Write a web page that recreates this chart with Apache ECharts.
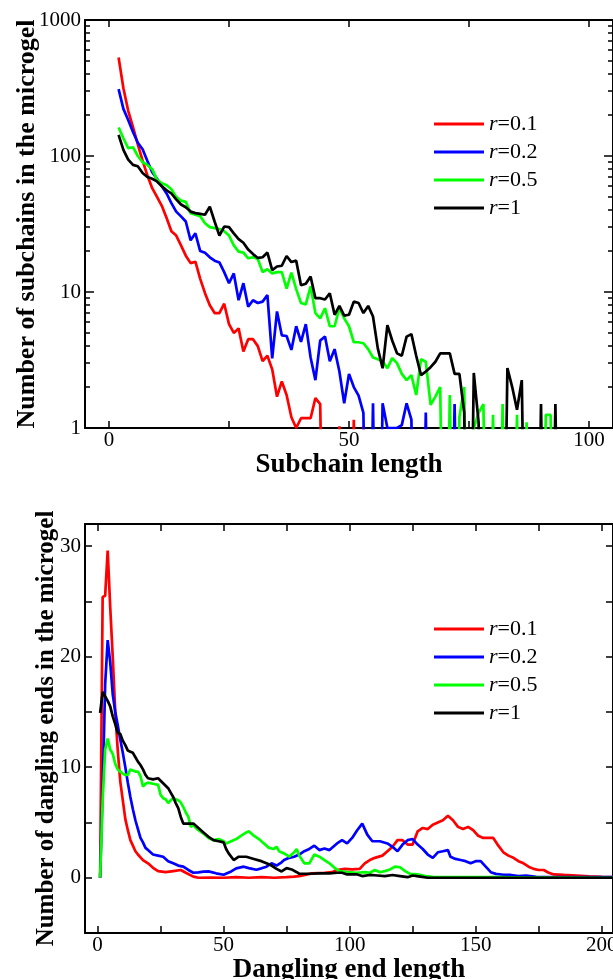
<!DOCTYPE html>
<html>
<head>
<meta charset="utf-8">
<script src="https://cdn.jsdelivr.net/npm/echarts@6/dist/echarts.min.js"></script>
<style>
  html, body { margin: 0; padding: 0; background: #fff; }
  #chart { width: 613px; height: 979px; }
</style>
</head>
<body>
<div id="chart"></div>
<script>
const seriesNames = ['r=0.1', 'r=0.2', 'r=0.5', 'r=1']
const seriesColors = ['#ff0000', '#0000ff', '#00ff00', '#000000']

// top panel: number of subchains per length, lengths start at 2
// E marks an empty bin (log of zero), it falls below the axis
const E = 0.01
const subchainStart = 2
const subR01 = [530, 315, 215, 163, 122, 92, 72, 58, 50, 43, 35, 28, 26, 22, 18.5, 16.3, 16.7, 12.5, 9.8, 8.0,
  7.0, 7.0, 8.2, 5.8, 5.0, 5.4, 3.65, 4.5, 4.5, 4.0, 3.1, 3.4, 2.7, 1.7, 2.2, 1.75, 1.2, 1.0, 1.18, 1.18,
  1.18, 1.66, 1.5, E, E, E, 1.03, E, E, 1.15, E, 1.03, E]
const subR02 = [310, 222, 184, 150, 125, 112, 92, 76, 68, 60, 53, 45, 39, 36, 33, 24, 27, 20, 19.4, 18,
  17, 16.5, 14, 11.6, 13.7, 8.7, 11.6, 7.8, 8.7, 8.3, 8.5, 9.5, 3.25, 7.2, 4.8, 4.75, 3.75, 5.6, 4.3, 5.8,
  3.3, 2.25, 4.4, 4.7, 3.1, 3.8, 2.6, 1.52, 2.5, 2.0, 1.73, 1.29, E, 1.52, E, 1.52, 1, 1, 1, 1.05,
  1.52, 1.15, E, E, 1.3, E, E, E, E, E, 1.5, E]
const subR05 = [162, 135, 114, 116, 100, 90, 86, 80, 67, 63, 61, 57, 50, 47, 46, 38, 37, 36, 32, 30,
  29.5, 29, 28, 26, 22, 19.8, 19.5, 17.7, 18, 17.5, 14, 14.7, 13.7, 14, 14, 10.6, 13.9, 10.5, 8.3, 8.1,
  11, 7.0, 6.4, 7.6, 5.6, 5.6, 7.6, 6.4, 5.6, 4.27, 4.27, 4.2, 3.8, 3.3, 3.2, 3.1, 2.75, 3.26, 3.0, 2.5,
  2.25, 2.45, 1.75, 3.2, 3.07, 1.48, 1.7, 2.0, E, 1.75, E, 1.2, 2.0, E, 1.0, 1.29, 1.5, E, 1.25, E,
  1.5, E, E, 1.25, E, 1.1, E, E, E, 1.25, 1.25, E]
const subR1 = [143, 111, 94, 86, 84, 75, 70, 68, 65, 60, 56, 53, 48, 44, 42, 39, 38, 37.5, 37, 42.4,
  33, 26, 30.3, 30, 27, 24.5, 23, 20.5, 19, 17.8, 18, 19.5, 14.5, 15.4, 15.6, 18.4, 16.6, 17, 11.2, 11.5,
  13, 9.0, 9.0, 8.8, 9.8, 6.8, 7.9, 6.7, 6.8, 8.5, 8.3, 7.0, 7.9, 6.6, 3.85, 2.75, 5.7, 4.4, 3.54, 3.4,
  4.7, 4.9, 3.4, 2.45, 2.6, 2.8, 3.07, 3.54, 3.54, 3.54, 2.5, 2.5, 1.3, E, 2.54, 1.1, E, E, E, E,
  E, 2.76, 2.0, 1.36, 2.25, E, E, E, 1.5, E, E, 1.5, E]

// bottom panel: number of dangling ends, [length, count]
const dangR01 = [[1, 0], [2, 25.4], [3, 25.5], [4, 29.6], [5, 24.5], [6, 20], [7, 15], [8, 11.5], [9, 8.7], [10, 7.0],
  [11, 5.3], [12, 4.3], [13, 3.4], [14, 2.9], [15, 2.4], [16, 2.1], [18, 1.6], [20, 1.3], [22, 0.9], [24, 0.6],
  [27, 0.5], [30, 0.6], [33, 0.7], [35, 0.45], [38, 0.1], [40, 0], [45, 0.02], [50, 0], [55, 0.05], [60, 0],
  [65, 0.05], [70, 0], [75, 0.05], [78, 0.1], [80, 0.15], [85, 0.4], [90, 0.45], [93, 0.5], [95, 0.7], [98, 0.8],
  [101, 0.75], [104, 0.8], [106, 1.3], [108, 1.6], [110, 1.8], [113, 2.0], [115, 2.4], [117, 2.8], [119, 3.4], [121, 3.4],
  [123, 3.0], [125, 3.0], [127, 4.2], [129, 4.5], [131, 4.4], [133, 4.8], [135, 5.0], [137, 5.2], [139, 5.6], [141, 5.2],
  [143, 4.6], [145, 4.4], [147, 4.6], [149, 4.3], [151, 3.8], [153, 3.6], [155, 3.6], [157, 3.6], [159, 2.9], [161, 2.3],
  [163, 2.0], [165, 1.8], [167, 1.5], [169, 1.3], [171, 1.0], [173, 0.8], [175, 0.7], [177, 0.7], [179, 0.45], [181, 0.3],
  [185, 0.25], [190, 0.2], [195, 0.12], [200, 0.08], [205, 0.05]]
const dangR02 = [[1, 0], [2, 8], [3, 17.5], [4, 21.5], [5, 19.5], [6, 16.6], [7, 15], [8, 13.8], [9, 12.5], [10, 11.3],
  [11, 10], [12, 8.6], [13, 7.3], [14, 6.2], [15, 5.2], [16, 4.4], [17, 3.6], [18, 3.2], [19, 2.7], [20, 2.5],
  [22, 2.1], [24, 2.0], [26, 1.9], [28, 1.5], [30, 1.3], [32, 1.1], [34, 1.0], [36, 0.7], [38, 0.45], [40, 0.48],
  [42, 0.55], [44, 0.57], [47, 0.4], [50, 0.27], [53, 0.57], [55, 0.85], [58, 1.0], [60, 0.87], [63, 0.72], [65, 0.85],
  [67, 1.0], [69, 1.3], [71, 1.1], [73, 1.4], [74, 1.6], [76, 1.8], [78, 1.9], [80, 2.1], [82, 2.4], [84, 2.6],
  [86, 2.9], [88, 2.5], [90, 2.65], [92, 2.5], [95, 3.1], [97, 3.4], [99, 3.1], [101, 3.6], [103, 4.3], [105, 4.9],
  [107, 3.9], [109, 3.3], [112, 3.3], [115, 3.1], [117, 2.8], [119, 2.4], [121, 3.0], [123, 3.4], [125, 3.5], [127, 3.0],
  [129, 2.6], [131, 2.1], [133, 1.8], [135, 2.3], [137, 2.4], [139, 2.5], [140, 1.9], [142, 1.7], [144, 1.6], [146, 1.5],
  [148, 1.3], [150, 1.5], [152, 1.5], [154, 1.0], [156, 0.5], [158, 0.35], [161, 0.27], [164, 0.25], [167, 0.15], [170, 0.2],
  [174, 0.08], [180, 0.05], [190, 0.05], [200, 0.05], [205, 0.05]]
const dangR05 = [[1, 0], [2, 7], [3, 11.6], [4, 12.6], [5, 11.6], [6, 11.2], [7, 10.3], [8, 9.8], [9, 9.6], [10, 9.4],
  [11, 9.3], [12, 9.3], [13, 9.8], [14, 9.7], [15, 9.6], [16, 9.6], [17, 9.2], [18, 8.25], [19, 8.5], [20, 8.6],
  [22, 8.5], [24, 8.4], [25, 7.5], [26, 7.2], [27, 7.1], [28, 6.75], [29, 7.0], [30, 7.2], [32, 7.0], [33, 6.8],
  [34, 6.4], [35, 5.9], [36, 5.5], [37, 4.6], [38, 4.8], [39, 4.5], [40, 4.3], [42, 4.0], [44, 3.6], [46, 3.4],
  [48, 3.5], [50, 3.3], [51, 3.1], [53, 3.3], [55, 3.5], [57, 3.8], [59, 4.1], [60, 4.2], [62, 3.8], [64, 3.5],
  [66, 3.1], [68, 2.7], [70, 2.6], [71, 2.8], [72, 2.4], [74, 2.2], [76, 1.9], [78, 2.3], [79, 2.6], [80, 2.0],
  [82, 1.3], [84, 1.3], [86, 2.1], [88, 1.9], [90, 1.6], [92, 1.3], [94, 0.9], [96, 0.6], [99, 0.5], [103, 0.45],
  [106, 0.5], [108, 0.45], [110, 0.7], [112, 0.5], [114, 0.6], [116, 0.75], [118, 1.0], [120, 0.95], [122, 0.6], [124, 0.35],
  [127, 0.3], [130, 0.15], [133, 0.08], [140, 0.05], [150, 0.05], [160, 0.05], [170, 0.02], [180, 0.02], [190, 0.02], [200, 0],
  [205, 0]]
const dangR1 = [[1, 14.9], [2, 16.8], [3, 16.4], [4, 16.0], [5, 15.5], [6, 14.6], [7, 13.9], [8, 13.1], [9, 13.0], [10, 12.4],
  [11, 12.0], [12, 11.5], [13, 11.4], [14, 11.3], [15, 10.9], [16, 10.5], [17, 10.2], [18, 9.8], [19, 9.3], [20, 9.0],
  [22, 8.9], [24, 9.0], [26, 8.55], [28, 8.1], [29, 7.7], [30, 7.3], [31, 6.75], [32, 6.3], [33, 5.5], [34, 4.9],
  [36, 4.9], [38, 4.9], [40, 4.5], [42, 4.1], [44, 3.7], [46, 3.4], [48, 3.3], [50, 3.2], [51, 2.6], [52, 2.2],
  [54, 1.6], [56, 1.9], [59, 1.9], [62, 1.7], [65, 1.5], [67, 1.3], [69, 1.1], [71, 0.8], [73, 0.57], [75, 0.87],
  [77, 0.75], [79, 0.5], [80, 0.36], [84, 0.36], [88, 0.4], [92, 0.4], [95, 0.45], [97, 0.45], [99, 0.3], [101, 0.3],
  [103, 0.3], [105, 0.15], [108, 0.25], [111, 0.2], [114, 0.15], [117, 0.25], [120, 0.15], [123, 0.05], [125, 0.2], [128, 0.1],
  [131, 0], [140, 0], [150, 0], [160, 0], [170, 0], [180, 0], [190, 0], [200, 0], [205, 0]]

// ticks and labels
const subXTicks = [0, 25, 50, 75, 100]
const subXLabels = [0, 50, 100]
const subYMajor = [1, 10, 100, 1000]
const subYMinor = [2, 3, 4, 5, 6, 7, 8, 9, 20, 30, 40, 50, 60, 70, 80, 90, 200, 300, 400, 500, 600, 700, 800, 900]
const dangXTicks = [0, 25, 50, 75, 100, 125, 150, 175, 200]
const dangXLabels = [0, 50, 100, 150, 200]
const dangYTicks = [0, 5, 10, 15, 20, 25, 30]
const dangYLabels = [0, 10, 20, 30]

const FONT = '"Liberation Serif", "Times New Roman", serif'
const INK = '#000'

const chart = echarts.init(document.getElementById('chart'))

function xAxis(grid, position, min, max, ticks, labels, name, nameGap) {
  return {
    gridIndex: grid,
    type: 'value',
    position,
    min,
    max,
    axisLine: { show: true, onZero: false, lineStyle: { color: INK, width: 2 } },
    axisTick: { show: true, inside: true, length: 7, customValues: ticks, lineStyle: { color: INK, width: 1.5 } },
    axisLabel: labels
      ? { show: true, customValues: labels, margin: 2, color: INK, fontSize: 21, fontFamily: FONT }
      : { show: false },
    splitLine: { show: false },
    name: name || '',
    nameLocation: 'middle',
    nameGap: nameGap || 0,
    nameTextStyle: { color: INK, fontSize: 27, fontWeight: 'bold', fontFamily: FONT }
  }
}

function yAxis(grid, type, position, min, max, ticks, tickLen, labels, showLine, name, nameGap, nameSize) {
  const axis = {
    gridIndex: grid,
    type,
    position,
    min,
    max,
    axisLine: { show: showLine, onZero: false, lineStyle: { color: INK, width: 2 } },
    axisTick: { show: true, inside: true, length: tickLen, customValues: ticks, lineStyle: { color: INK, width: 1.5 } },
    axisLabel: labels
      ? {
          show: true,
          customValues: labels,
          margin: 4,
          color: INK,
          fontSize: 21,
          fontFamily: FONT,
          formatter: v => String(Math.round(v))
        }
      : { show: false },
    splitLine: { show: false },
    name: name || '',
    nameLocation: 'middle',
    nameRotate: 90,
    nameGap: nameGap || 0,
    nameMoveOverlap: false,
    nameTextStyle: { color: INK, fontSize: nameSize || 26, fontWeight: 'bold', fontFamily: FONT }
  }
  if (type === 'log') {
    axis.logBase = 10
  }
  return axis
}

function legend(top) {
  return {
    data: seriesNames,
    orient: 'vertical',
    left: 429,
    top,
    icon: 'rect',
    itemWidth: 50,
    itemHeight: 3,
    itemGap: 6,
    selectedMode: false,
    formatter: name => '{i|r}' + name.slice(1),
    textStyle: {
      color: INK,
      fontSize: 22,
      fontFamily: FONT,
      rich: { i: { fontStyle: 'italic', fontSize: 22, fontFamily: FONT, color: INK } }
    }
  }
}

const subData = [subR01, subR02, subR05, subR1]
const dangData = [dangR01, dangR02, dangR05, dangR1]

const series = []
subData.forEach((arr, k) => {
  series.push({
    name: seriesNames[k],
    type: 'line',
    xAxisIndex: 0,
    yAxisIndex: 0,
    data: arr.map((v, i) => [i + subchainStart, v]),
    showSymbol: false,
    symbol: 'none',
    clip: true,
    lineStyle: { color: seriesColors[k], width: 2.7 },
    itemStyle: { color: seriesColors[k] }
  })
})
dangData.forEach((arr, k) => {
  series.push({
    name: seriesNames[k],
    type: 'line',
    xAxisIndex: 2,
    yAxisIndex: 4,
    data: arr,
    showSymbol: false,
    symbol: 'none',
    clip: true,
    lineStyle: { color: seriesColors[k], width: 2.7 },
    itemStyle: { color: seriesColors[k] }
  })
})

chart.setOption({
  animation: false,
  backgroundColor: '#fff',
  grid: [
    { left: 85, top: 20, width: 528, height: 408, outerBoundsMode: 'none' },
    { left: 85, top: 524, width: 528, height: 409, outerBoundsMode: 'none' }
  ],
  xAxis: [
    xAxis(0, 'bottom', -5, 105, subXTicks, subXLabels, 'Subchain length', 18),
    xAxis(0, 'top', -5, 105, subXTicks, null),
    xAxis(1, 'bottom', -5, 204.5, dangXTicks, dangXLabels, 'Dangling end length', 20),
    xAxis(1, 'top', -5, 204.5, dangXTicks, null)
  ],
  yAxis: [
    yAxis(0, 'log', 'left', 1, 1000, subYMajor, 9, subYMajor, true, 'Number of subchains in the microgel', 45, 26),
    yAxis(0, 'log', 'left', 1, 1000, subYMinor, 5, null, false),
    yAxis(0, 'log', 'right', 1, 1000, subYMajor, 9, null, true),
    yAxis(0, 'log', 'right', 1, 1000, subYMinor, 5, null, false),
    yAxis(1, 'value', 'left', -5, 32, dangYTicks, 7, dangYLabels, true, 'Number of dangling ends in the microgel', 26, 25),
    yAxis(1, 'value', 'right', -5, 32, dangYTicks, 7, null, true)
  ],
  legend: [legend(108), legend(613)],
  series
})
</script>
</body>
</html>
